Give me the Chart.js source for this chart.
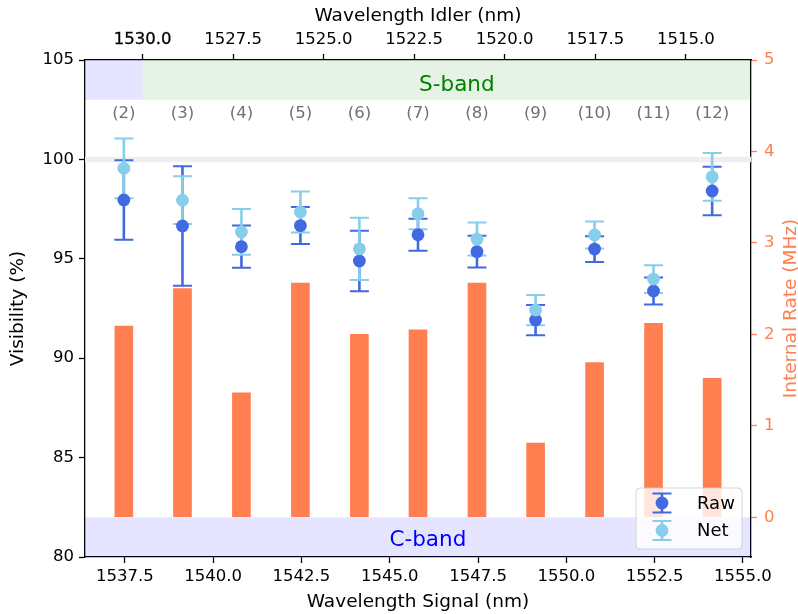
<!DOCTYPE html>
<html>
<head>
<meta charset="utf-8">
<script src="https://cdn.jsdelivr.net/npm/chart.js@4.4.1/dist/chart.umd.min.js"></script>
<style>
html,body{margin:0;padding:0;background:#ffffff;}
#wrap{width:798px;height:614px;}
</style>
</head>
<body>
<div id="wrap"><canvas id="c" width="798" height="614"></canvas></div>
<script>
// ---------------- data ----------------
const signalWavelength = [1537.47, 1539.13, 1540.80, 1542.47, 1544.14, 1545.80, 1547.47, 1549.13, 1550.80, 1552.47, 1554.13];
const channelLabels = ['(2)', '(3)', '(4)', '(5)', '(6)', '(7)', '(8)', '(9)', '(10)', '(11)', '(12)'];
const visibilityRaw = [97.96, 96.65, 95.61, 96.67, 94.89, 96.21, 95.36, 91.92, 95.49, 93.38, 98.41];
const errorRaw      = [2.00, 3.00, 1.06, 0.93, 1.52, 0.80, 0.80, 0.76, 0.65, 0.68, 1.22];
const visibilityNet = [99.55, 97.95, 96.35, 97.35, 95.50, 97.27, 95.99, 92.42, 96.20, 93.98, 99.12];
const errorNet      = [1.50, 1.20, 1.15, 1.03, 1.57, 0.78, 0.83, 0.76, 0.68, 0.70, 1.20];
const internalRate  = [2.09, 2.50, 1.36, 2.56, 2.00, 2.05, 2.56, 0.81, 1.69, 2.12, 1.52];

const signalTicks = [1537.5, 1540.0, 1542.5, 1545.0, 1547.5, 1550.0, 1552.5, 1555.0];
const idlerTicks = [1530.0, 1527.5, 1525.0, 1522.5, 1520.0, 1517.5, 1515.0];
const visibilityTicks = [80, 85, 90, 95, 100, 105];
const rateTicks = [0, 1, 2, 3, 4, 5];

const seriesNames = ['Raw', 'Net'];
const bandNames = ['S-band', 'C-band'];
const titleSignal = 'Wavelength Signal (nm)';
const titleIdler = 'Wavelength Idler (nm)';
const titleVisibility = 'Visibility (%)';
const titleRate = 'Internal Rate (MHz)';

// band limits (in data units)
const cBandVisibility = [80, 82];
const topStripVisibility = [103, 105];
const sBandIdlerEdge = 1530;
const referenceVisibility = 100;

// axis ranges
const signalRange = [1536.37, 1555.23];
const idlerRange = [1513.20, 1531.59];
const visibilityRange = [80, 105];
const rateRange = [(80 - 82) * 5 / 23, 5];

// ---------------- styles ----------------
const FONT = "'DejaVu Sans', sans-serif";
const RAW_COLOR = '#4169E1';
const NET_COLOR = '#87CEEB';
const BAR_COLOR = '#FF7F50';
const RATE_COLOR = '#FF7F50';

function fixedTicks(list) {
  return function (scale) { scale.ticks = list.map(v => ({ value: v })); };
}
const tickFont = { family: FONT, size: 16.5 };
const titleFont = { family: FONT, size: 18.5 };

function drawErrorSet(ctx, xs, ys, vals, errs, color) {
  ctx.strokeStyle = color;
  ctx.lineCap = 'butt';
  for (let i = 0; i < vals.length; i++) {
    const px = xs.getPixelForValue(signalWavelength[i]);
    const top = ys.getPixelForValue(vals[i] + errs[i]);
    const bot = ys.getPixelForValue(vals[i] - errs[i]);
    ctx.lineWidth = 2.6;
    ctx.beginPath(); ctx.moveTo(px, top); ctx.lineTo(px, bot); ctx.stroke();
    ctx.lineWidth = 2;
    ctx.beginPath();
    ctx.moveTo(px - 9.5, top); ctx.lineTo(px + 9.5, top);
    ctx.moveTo(px - 9.5, bot); ctx.lineTo(px + 9.5, bot);
    ctx.stroke();
  }
}

const bandPlugin = {
  id: 'bands',
  beforeDatasetsDraw(chart) {
    const { ctx, chartArea: a, scales } = chart;
    const y = scales.y, x2 = scales.x2;
    ctx.save();
    ctx.fillStyle = 'rgba(0,0,255,0.1)';
    const c0 = y.getPixelForValue(cBandVisibility[0]), c1 = y.getPixelForValue(cBandVisibility[1]);
    ctx.fillRect(a.left, c1, a.right - a.left, c0 - c1);
    const t0 = y.getPixelForValue(topStripVisibility[0]), t1 = y.getPixelForValue(topStripVisibility[1]);
    const xb = x2.getPixelForValue(sBandIdlerEdge);
    ctx.fillRect(a.left, t1, xb - a.left, t0 - t1);
    ctx.fillStyle = 'rgba(0,128,0,0.1)';
    ctx.fillRect(xb, t1, a.right - xb, t0 - t1);
    const yr = y.getPixelForValue(referenceVisibility);
    ctx.strokeStyle = '#efefef';
    ctx.lineWidth = 5.5;
    ctx.beginPath(); ctx.moveTo(a.left, yr); ctx.lineTo(a.right, yr); ctx.stroke();
    ctx.restore();
  },
  beforeDatasetDraw(chart, args) {
    if (args.index !== 1) return;
    const { ctx, scales } = chart;
    ctx.save();
    drawErrorSet(ctx, scales.x, scales.y, visibilityRaw, errorRaw, RAW_COLOR);
    drawErrorSet(ctx, scales.x, scales.y, visibilityNet, errorNet, NET_COLOR);
    ctx.restore();
  },
  afterDatasetsDraw(chart) {
    const { ctx, chartArea: a, scales } = chart;
    const x = scales.x, y = scales.y;
    ctx.save();
    // channel labels
    ctx.fillStyle = '#707070';
    ctx.font = '16.5px ' + FONT;
    ctx.textAlign = 'center';
    ctx.textBaseline = 'middle';
    const yl = y.getPixelForValue(102.3);
    channelLabels.forEach((t, i) => ctx.fillText(t, x.getPixelForValue(signalWavelength[i]), yl));
    // band names
    ctx.font = '21.5px ' + FONT;
    ctx.fillStyle = '#008000';
    ctx.fillText(bandNames[0], x.getPixelForValue(1546.90), y.getPixelForValue(103.74));
    ctx.fillStyle = '#0000FF';
    ctx.fillText(bandNames[1], x.getPixelForValue(1546.08), y.getPixelForValue(80.85));

    // legend
    const bw = 106, bh = 61;
    const bx = a.right - 9 - bw, by = a.bottom - 8 - bh;
    ctx.beginPath();
    ctx.roundRect(bx, by, bw, bh, 4);
    ctx.fillStyle = 'rgba(255,255,255,0.8)';
    ctx.fill();
    ctx.strokeStyle = 'rgba(204,204,204,0.8)';
    ctx.lineWidth = 1;
    ctx.stroke();
    const colors = [RAW_COLOR, NET_COLOR];
    seriesNames.forEach((name, i) => {
      const cx = bx + 26, cy = by + 15 + i * 27.5;
      ctx.strokeStyle = colors[i];
      ctx.lineWidth = 2.6;
      ctx.beginPath(); ctx.moveTo(cx, cy - 9.5); ctx.lineTo(cx, cy + 9.5); ctx.stroke();
      ctx.lineWidth = 2;
      ctx.beginPath();
      ctx.moveTo(cx - 9.5, cy - 9.5); ctx.lineTo(cx + 9.5, cy - 9.5);
      ctx.moveTo(cx - 9.5, cy + 9.5); ctx.lineTo(cx + 9.5, cy + 9.5);
      ctx.stroke();
      ctx.fillStyle = colors[i];
      ctx.beginPath(); ctx.arc(cx, cy, 6.4, 0, Math.PI * 2); ctx.fill();
      ctx.fillStyle = '#000';
      ctx.font = '18px ' + FONT;
      ctx.textAlign = 'left';
      ctx.textBaseline = 'middle';
      ctx.fillText(name, bx + 61, cy + 1);
    });
    ctx.restore();
  },
  afterDraw(chart) {
    const { ctx, chartArea: a } = chart;
    ctx.save();
    ctx.translate(791, (a.top + a.bottom) / 2);
    ctx.rotate(-Math.PI / 2);
    ctx.fillStyle = RATE_COLOR;
    ctx.font = '18.5px ' + FONT;
    ctx.textAlign = 'center';
    ctx.textBaseline = 'middle';
    ctx.fillText(titleRate, 0, 0);
    ctx.restore();
  }
};

const axisBorder = { display: true, color: '#000', width: 1.3 };
const axisGrid = { offset: false, drawOnChartArea: false, drawTicks: true, tickLength: 6, tickColor: '#000', tickWidth: 1.3 };

new Chart(document.getElementById('c'), {
  type: 'bar',
  data: {
    datasets: [
      {
        type: 'bar', label: 'Internal Rate', xAxisID: 'x', yAxisID: 'y2', order: 3,
        data: signalWavelength.map((w, i) => ({ x: w, y: internalRate[i] })),
        backgroundColor: BAR_COLOR, borderWidth: 0, barThickness: 18
      },
      {
        type: 'scatter', label: seriesNames[0], xAxisID: 'x', yAxisID: 'y', order: 2,
        data: signalWavelength.map((w, i) => ({ x: w, y: visibilityRaw[i] })),
        backgroundColor: RAW_COLOR, borderColor: RAW_COLOR, pointRadius: 6.4, pointBorderWidth: 0, showLine: false
      },
      {
        type: 'scatter', label: seriesNames[1], xAxisID: 'x', yAxisID: 'y', order: 1,
        data: signalWavelength.map((w, i) => ({ x: w, y: visibilityNet[i] })),
        backgroundColor: NET_COLOR, borderColor: NET_COLOR, pointRadius: 6.4, pointBorderWidth: 0, showLine: false
      }
    ]
  },
  options: {
    responsive: false,
    animation: false,
    devicePixelRatio: 1,
    layout: { padding: 0 },
    plugins: { legend: { display: false }, tooltip: { enabled: false } },
    scales: {
      x: {
        type: 'linear', position: 'bottom', offset: false, min: signalRange[0], max: signalRange[1],
        afterBuildTicks: fixedTicks(signalTicks),
        afterFit: s => { s.height = 57; },
        ticks: { callback: v => v.toFixed(1), color: '#000', font: tickFont, padding: 4, maxRotation: 0, autoSkip: false },
        grid: axisGrid, border: axisBorder,
        title: { display: true, text: titleSignal, color: '#000', font: titleFont, padding: { top: 0, bottom: 1 } }
      },
      x2: {
        type: 'linear', position: 'top', offset: false, reverse: true, min: idlerRange[0], max: idlerRange[1],
        afterBuildTicks: fixedTicks(idlerTicks),
        afterFit: s => { s.height = 60; },
        ticks: {
          callback: v => v.toFixed(1), color: '#000', font: tickFont, padding: 4, maxRotation: 0, autoSkip: false,
          textStrokeColor: '#000',
          textStrokeWidth: c => (c.tick && c.tick.value === sBandIdlerEdge ? 0.3 : 0)
        },
        grid: axisGrid, border: axisBorder,
        title: { display: true, text: titleIdler, color: '#000', font: titleFont, padding: { top: 5, bottom: 0 } }
      },
      y: {
        type: 'linear', position: 'left', offset: false, min: visibilityRange[0], max: visibilityRange[1],
        afterBuildTicks: fixedTicks(visibilityTicks),
        afterFit: s => { s.width = 85; },
        ticks: { color: '#000', font: tickFont, padding: 5 },
        grid: axisGrid, border: axisBorder,
        title: { display: true, text: titleVisibility, color: '#000', font: titleFont, padding: { top: 7, bottom: 0 } }
      },
      y2: {
        type: 'linear', position: 'right', offset: false, min: rateRange[0], max: rateRange[1],
        afterBuildTicks: fixedTicks(rateTicks),
        afterFit: s => { s.width = 47; },
        ticks: { color: RATE_COLOR, font: tickFont, padding: 7 },
        grid: { offset: false, drawOnChartArea: false, drawTicks: true, tickLength: 6, tickColor: RATE_COLOR, tickWidth: 1.3 },
        border: axisBorder,
        title: { display: false }
      }
    }
  },
  plugins: [bandPlugin]
});
</script>
</body>
</html>
